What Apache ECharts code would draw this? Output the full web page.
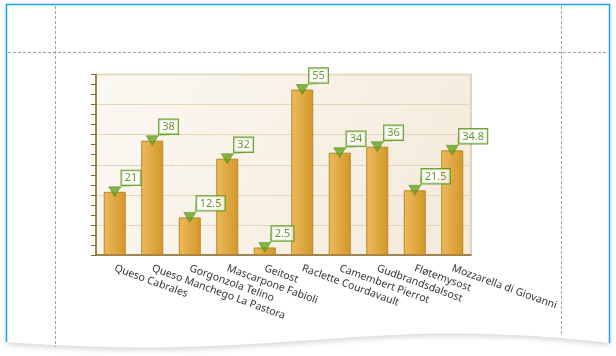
<!DOCTYPE html>
<html>
<head>
<meta charset="utf-8">
<script src="https://cdn.jsdelivr.net/npm/echarts@6/dist/echarts.min.js"></script>
<style>html,body{margin:0;padding:0;background:#fff;}#c{width:616px;height:356px;}</style>
</head>
<body>
<div id="c"></div>
<script>
var categories = ['Queso Cabrales','Queso Manchego La Pastora','Gorgonzola Telino','Mascarpone Fabioli','Geitost','Raclette Courdavault','Camembert Pierrot','Gudbrandsdalsost','Fløtemysost','Mozzarella di Giovanni'];
var values = [21, 38, 12.5, 32, 2.5, 55, 34, 36, 21.5, 34.8];
var yMin = 0, yMax = 60, yStep = 10;

var minorSlots = [];
for (var i = 0; i < categories.length * 5; i++) minorSlots.push('');

// decorative page outline with a wavy bottom edge
function bez(p0, p1, p2, p3, n, out) {
  for (var k = 1; k <= n; k++) {
    var t = k / n, u = 1 - t;
    out.push([u*u*u*p0[0] + 3*u*u*t*p1[0] + 3*u*t*t*p2[0] + t*t*t*p3[0],
              u*u*u*p0[1] + 3*u*u*t*p1[1] + 3*u*t*t*p2[1] + t*t*t*p3[1]]);
  }
}
var pagePts = [[6.5, 4.5], [609.5, 4.5], [609.5, 343]];
bez([609.5, 343], [560, 337], [500, 333], [440, 333.5], 20, pagePts);
bez([440, 333.5], [360, 334], [250, 347.5], [150, 347.5], 30, pagePts);
bez([150, 347.5], [90, 347.5], [40, 344.5], [6.5, 342], 20, pagePts);

var chart = echarts.init(document.getElementById('c'));
var brown = '#8a6a2c';
var font = '"Noto Sans", sans-serif';
chart.setOption({
  animation: false,
  backgroundColor: '#ffffff',
  graphic: {elements: [
    {type: 'polygon', z: -20, shape: {points: pagePts},
     style: {fill: '#ffffff', shadowBlur: 6, shadowColor: 'rgba(0,0,0,0.18)', shadowOffsetY: 2}},
    {type: 'polyline', z: -19, shape: {points: [[6.5,342],[6.5,4.5],[609.5,4.5],[609.5,343]]}, style: {stroke: '#12a6ee', lineWidth: 1.5}},
    {type: 'line', z: -18, shape: {x1: 55.5, y1: 6, x2: 55.5, y2: 347}, style: {stroke: '#a0a0a0', lineWidth: 1, lineDash: [3,2]}},
    {type: 'line', z: -18, shape: {x1: 561.5, y1: 6, x2: 561.5, y2: 336}, style: {stroke: '#a0a0a0', lineWidth: 1, lineDash: [3,2]}},
    {type: 'line', z: -18, shape: {x1: 8, y1: 52.5, x2: 608, y2: 52.5}, style: {stroke: '#a0a0a0', lineWidth: 1, lineDash: [3,2]}}
  ]},
  grid: {left: 96, top: 74.5, right: 145, bottom: 101, show: true,
    backgroundColor: {type: 'linear', x: 0, y: 0, x2: 1, y2: 1, colorStops: [{offset: 0, color: '#fbf8f2'}, {offset: 1, color: '#f4eada'}]},
    borderColor: '#d9c8a2', borderWidth: 1.5},
  xAxis: [
    {type: 'category', data: categories, boundaryGap: true,
     axisLine: {lineStyle: {color: brown, width: 1.5}},
     axisTick: {alignWithLabel: true, length: 5, lineStyle: {color: brown}},
     axisLabel: {rotate: -20, margin: 13, fontSize: 10.5, color: '#333', fontFamily: font, interval: 0}},
    {type: 'category', data: minorSlots, position: 'bottom', boundaryGap: true,
     axisLine: {show: false},
     axisTick: {alignWithLabel: true, length: 3, interval: 0, lineStyle: {color: brown}},
     axisLabel: {show: false}}
  ],
  yAxis: {type: 'value', min: yMin, max: yMax, interval: yStep,
    axisLine: {show: true, lineStyle: {color: brown, width: 1.5}},
    axisTick: {show: true, length: 5, lineStyle: {color: brown}},
    minorTick: {show: true, splitNumber: 3, length: 5, lineStyle: {color: brown}},
    axisLabel: {show: false},
    splitLine: {lineStyle: {color: '#e2d5bb', width: 1.2}}},
  series: [
    {type: 'bar', data: values, barWidth: 22, xAxisIndex: 0,
     itemStyle: {color: {type: 'linear', x: 0, y: 0, x2: 1, y2: 0, colorStops: [{offset: 0, color: '#edba5c'}, {offset: 1, color: '#d3972a'}]},
       borderColor: '#b9862f', borderWidth: 1}},
    {type: 'scatter', data: values, xAxisIndex: 0, symbol: 'triangle', symbolRotate: 180, symbolSize: [12, 10], z: 5,
     itemStyle: {color: '#64a41a', borderColor: '#4a850c', borderWidth: 0.6},
     label: {show: true, formatter: '{c}', color: '#3f7f00', fontSize: 11, fontFamily: font,
       backgroundColor: '#ffffff', borderColor: '#4f8e0a', borderWidth: 1.2, padding: [2, 3, 1, 3]},
     labelLine: {show: true, lineStyle: {color: '#86bc55', type: 'dotted', width: 1.2}},
     labelLayout: function (p) {
       var r = p.rect;
       return {x: r.x + r.width / 2 + 7, y: r.y + r.height / 2 - 7, align: 'left', verticalAlign: 'bottom'};
     }}
  ]
});
</script>
</body>
</html>
